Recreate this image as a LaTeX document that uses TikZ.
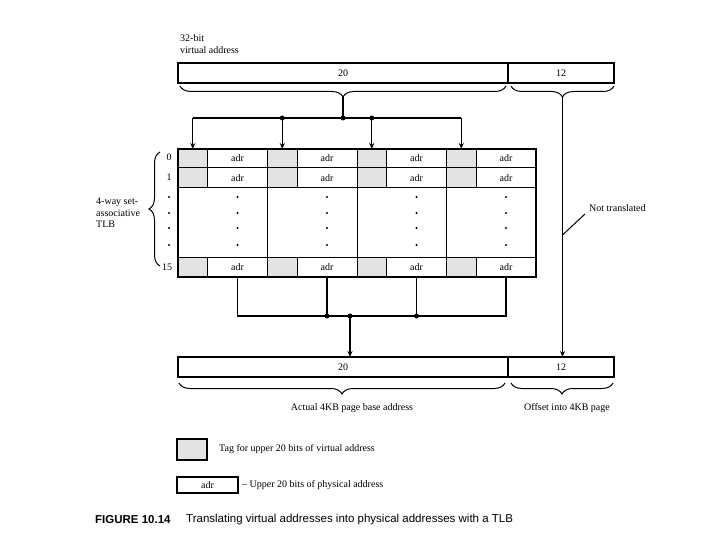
\documentclass[tikz,border=0pt]{standalone}
\usepackage{fontspec}
\setmainfont{Liberation Serif}
\newfontfamily\capfont{Liberation Sans}
\usetikzlibrary{decorations.pathreplacing,arrows.meta,calc}
\begin{document}
\begin{tikzpicture}[x=1pt,y=-1pt,
  lbl/.style={font=\fontsize{10}{11.5}\selectfont, inner sep=0pt},
  tagcell/.style={draw, line width=1pt, fill=gray!22, inner sep=0pt, outer sep=0pt},
  adrcell/.style={draw, line width=1pt, fill=white, inner sep=0pt, outer sep=0pt, font=\fontsize{10}{11}\selectfont},
  barcell/.style={draw, line width=1.3pt, fill=white, inner sep=0pt, outer sep=0pt, font=\fontsize{10}{11}\selectfont},
  conn/.style={line width=1.3pt},
  arr/.style={line width=1.3pt, -{Stealth[length=6pt,width=5pt]}},
  junc/.style={circle, fill=black, inner sep=0pt, minimum size=5pt},
  brc/.style={decorate, decoration={brace, amplitude=11pt}, line width=1pt},
  dotm/.style={circle, fill=black, inner sep=0pt, minimum size=2.2pt}
]
\fill[white] (0,0) rectangle (720,540);
\useasboundingbox (0,0) rectangle (720,540);

% labels top
\node[lbl, anchor=west] (l32) at (180,38) {32-bit};
\node[lbl, anchor=west] (lva) at (180,50) {virtual address};

% top virtual address bar
\node[barcell, minimum width=330pt, minimum height=20pt] (va20) at (343,73) {20};
\node[barcell, minimum width=106pt, minimum height=20pt] (va12) at (561,73) {12};

% top braces
\draw[brc, decoration={mirror}] (180,86) -- (506,86);
\draw[brc, decoration={mirror}] (511,86) -- (614,86);
\coordinate (vtip) at (343,97);
\coordinate (otip) at (562.5,97);

% TLB cells
\foreach \k in {0,...,3} {
  \pgfmathsetmacro\xa{178+89.5*\k}
  \foreach \r/\ya/\yb in {0/149/168, 1/168/188, 15/257/277} {
    \node[tagcell, minimum width=29.5pt, minimum height={\yb-\ya}]
      (t\k-\r) at ({\xa+14.75},{(\ya+\yb)/2}) {};
    \node[adrcell, minimum width=60pt, minimum height={\yb-\ya}]
      (a\k-\r) at ({\xa+59.5},{(\ya+\yb)/2}) {adr};
  }
  \node[draw, line width=1pt, inner sep=0pt, outer sep=0pt,
        minimum width=89.5pt, minimum height=69pt] (m\k) at ({\xa+44.75},222.5) {};
  \foreach \yy in {197,213,228,245} {
    \node[dotm] at ({\xa+59.5},\yy) {};
  }
}
\draw[line width=1.5pt] (t0-0.north west) rectangle (a3-15.south east);

% row labels
\node[lbl] (r0) at (169,157) {0};
\node[lbl] (r1) at (169,177) {1};
\node[lbl] (r15) at (167,267) {15};
\foreach \yy in {197,213,228,245} { \node[dotm] at (169,\yy) {}; }

% TLB brace + label
\draw[brc] (160,266) -- (160,152);
\node[lbl, anchor=west, align=left] (tlbl) at (96,213) {4-way set-\\associative\\TLB};

% top connectors
\coordinate (h0) at (t0-0.north |- 0,118);
\coordinate (h3) at (t3-0.north |- 0,118);
\node[junc] (j1) at (t1-0.north |- 0,118) {};
\node[junc] (jm) at (343,118) {};
\node[junc] (j2) at (t2-0.north |- 0,118) {};
\draw[conn] (vtip) -- (jm.center);
\draw[conn] (h0) -- (h3);
\draw[arr] (h0) -- (t0-0.north);
\draw[arr] (j1.center) -- (t1-0.north);
\draw[arr] (j2.center) -- (t2-0.north);
\draw[arr] (h3) -- (t3-0.north);

% bottom physical address bar
\node[barcell, minimum width=330pt, minimum height=20pt] (pa20) at (343,367) {20};
\node[barcell, minimum width=106pt, minimum height=20pt] (pa12) at (561,367) {12};

% bottom connectors
\coordinate (b0) at (a0-15.south |- 0,316);
\node[junc] (b1) at (a1-15.south |- 0,316) {};
\node[junc] (bm) at (350,316) {};
\node[junc] (b2) at (a2-15.south |- 0,316) {};
\coordinate (b3) at (a3-15.south |- 0,316);
\draw[conn] (a0-15.south) -- (b0) -- (b3) -- (a3-15.south);
\draw[conn] (a1-15.south) -- (b1.center);
\draw[conn] (a2-15.south) -- (b2.center);
\draw[arr] (bm.center) -- (bm |- pa20.north);

% not translated
\draw[arr] (otip) -- (otip |- pa12.north);
\node[lbl, anchor=west] (nt) at (589,208) {Not translated};
\coordinate (ntl) at (585,214);
\coordinate (ntr) at (otip |- 0,235);
\draw[line width=1pt] (ntl) -- (ntr);

% bottom braces
\draw[brc, decoration={mirror}] (179,383) -- (505,383);
\draw[brc, decoration={mirror}] (511,383) -- (613,383);
\node[lbl] (lbase) at (352,408) {Actual 4KB page base address};
\node[lbl] (loff) at (567,408) {Offset into 4KB page};

% legend
\node[tagcell, line width=1.3pt, minimum width=30pt, minimum height=21pt] (legt) at (192,449.5) {};
\node[lbl, anchor=west] (legtl) at (219,449) {Tag for upper 20 bits of virtual address};
\node[adrcell, line width=1.3pt, minimum width=61pt, minimum height=16pt] (lega) at (207.5,485) {adr};
\node[lbl, anchor=west] (legal) at (242,485) {-- Upper 20 bits of physical address};

% caption
\node[anchor=west, inner sep=0pt, font=\capfont\fontsize{11.5}{13}\selectfont\bfseries] (capn) at (95,520) {FIGURE 10.14};
\node[anchor=west, inner sep=0pt, font=\capfont\fontsize{11.5}{13}\selectfont] (capt) at (186,520) {Translating virtual addresses into physical addresses with a TLB};
\end{tikzpicture}
\end{document}
